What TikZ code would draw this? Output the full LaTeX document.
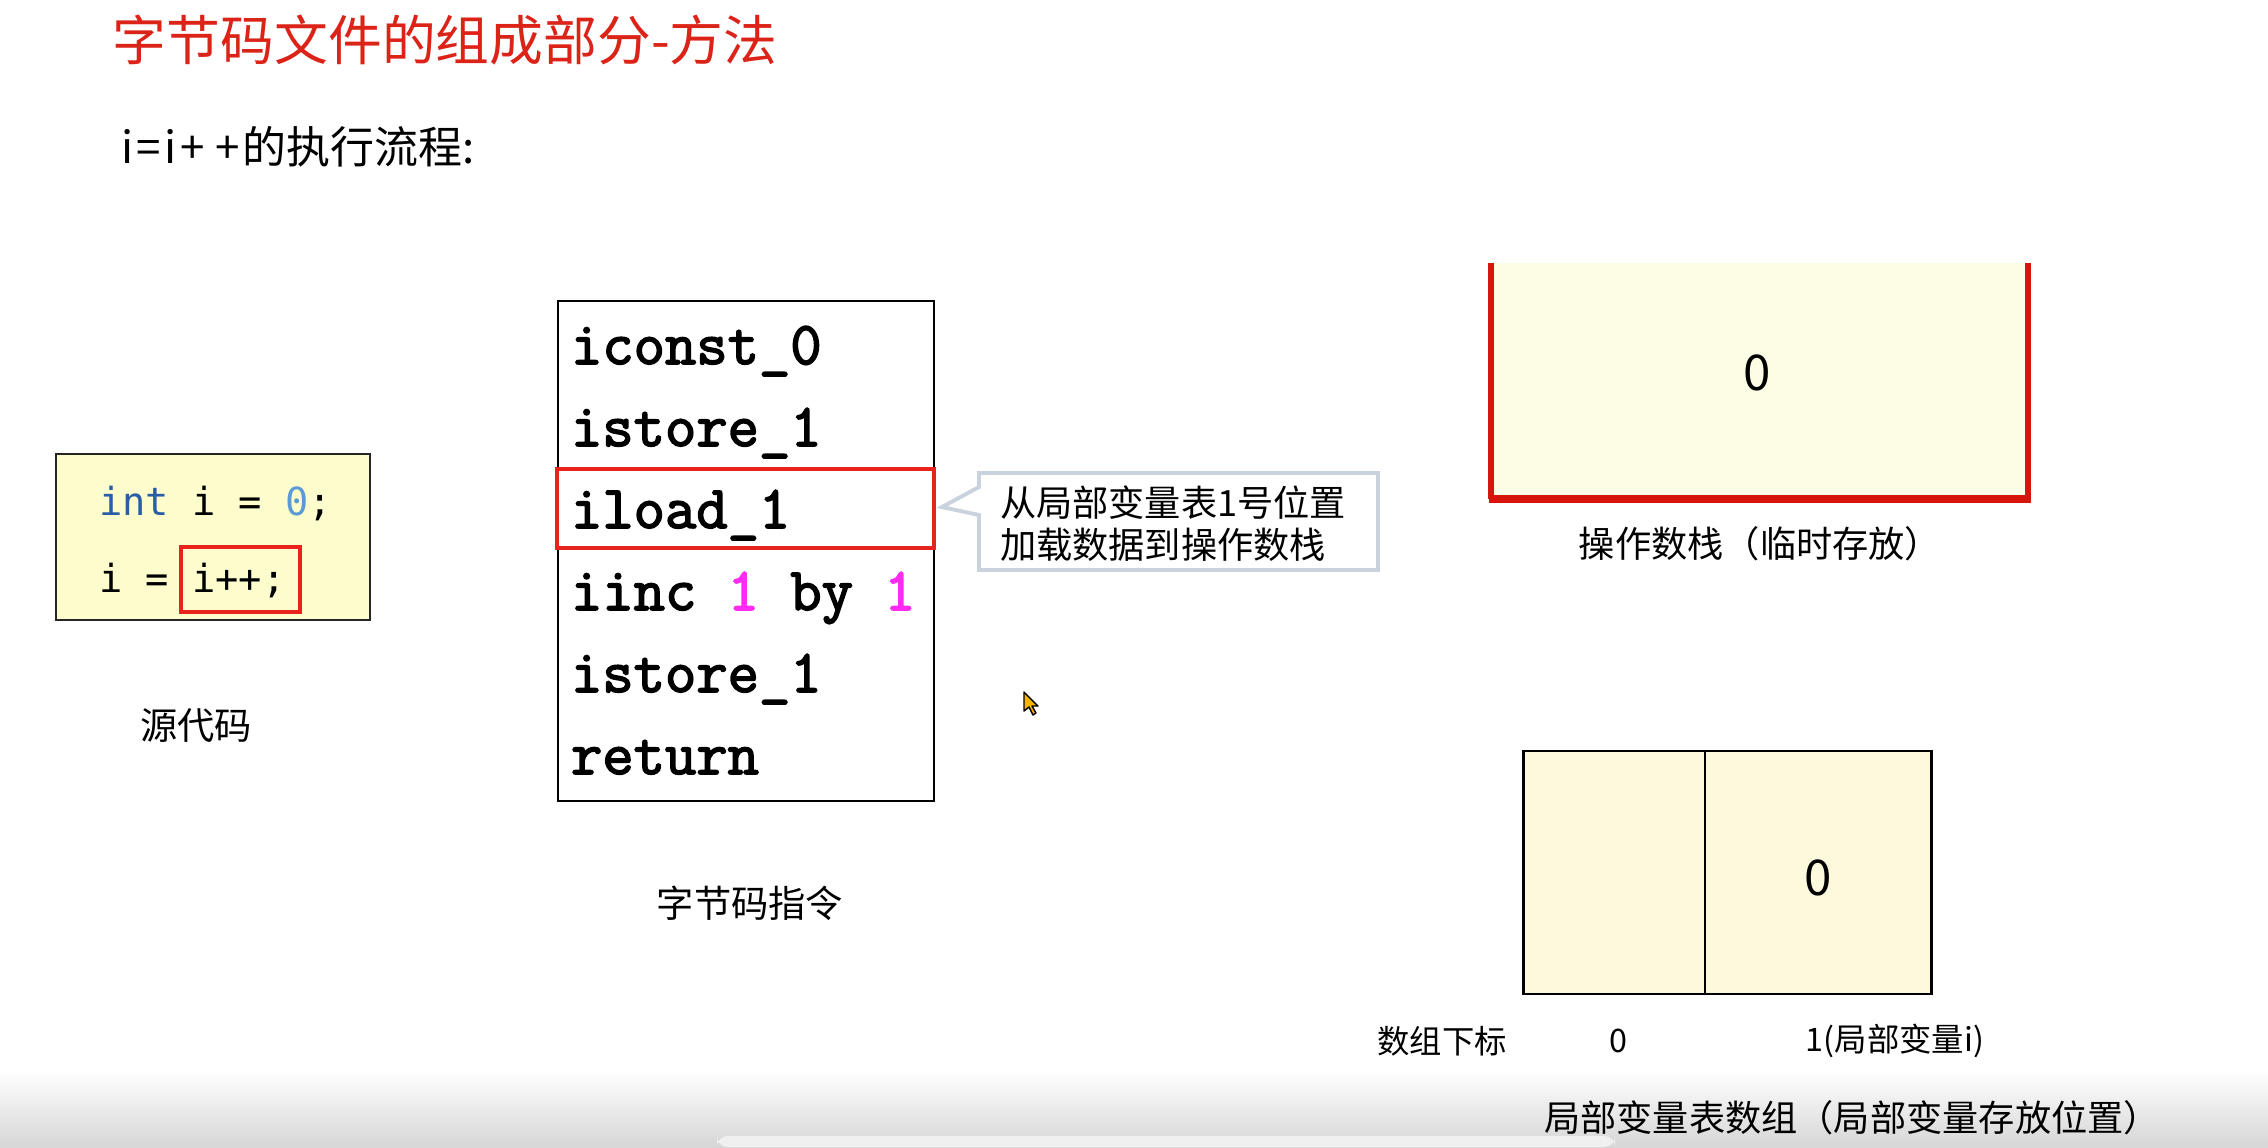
\documentclass[tikz,border=0pt]{standalone}
\usepackage{fontspec}
\setmainfont{Noto Sans CJK SC}
\newfontfamily\cjk{Noto Sans CJK SC}
\newfontfamily\srcfont{DejaVu Sans Mono}
\newfontfamily\bcfont{Latin Modern Mono}[FakeBold=2.6]
\definecolor{titlered}{HTML}{DC2318}
\definecolor{boxred}{HTML}{E8231E}
\definecolor{stackred}{HTML}{D7150D}
\definecolor{codefill}{HTML}{FCFCCC}
\definecolor{stackfill}{HTML}{FDFDE6}
\definecolor{tabfill}{HTML}{FCF9DC}
\definecolor{kwblue}{HTML}{2A5DA8}
\definecolor{numblue}{HTML}{5B9BD5}
\definecolor{mag}{HTML}{FF2BF0}
\definecolor{callborder}{HTML}{CAD2DE}
\definecolor{cursorfill}{HTML}{F5B400}
\begin{document}
\begin{tikzpicture}[x=0.01cm,y=-0.01cm,
  txt/.style={inner sep=0pt, outer sep=0pt},
  srcline/.style={txt, anchor=base west, font=\srcfont\fontsize{11}{13}\selectfont},
  bcline/.style={txt, anchor=base west, font=\bcfont\fontsize{17.3}{19}\selectfont},
  redbox/.style={draw=boxred, line width=1pt, inner sep=0pt},
  lab/.style={txt, font=\cjk\fontsize{10.3}{12}\selectfont},
  biglab/.style={txt, font=\cjk\fontsize{14}{16}\selectfont},
  smalllab/.style={txt, font=\cjk\fontsize{9.2}{11}\selectfont}
]
\useasboundingbox (0,0) rectangle (2268,1147);
\fill[white] (0,0) rectangle (2268,1147);
% bottom gradient (video overlay)
\shade[top color=white, bottom color=black!16] (0,1070) rectangle (2268,1147);
\fill[white!94!black, rounded corners=3pt] (717,1136) rectangle (1615,1147);

% title
\node[txt, anchor=west, text=titlered, font=\cjk\fontsize{15.3}{18}\selectfont] (title) at (113,40) {字节码文件的组成部分-方法};
\node[txt, anchor=west, font=\cjk\fontsize{12.5}{15}\selectfont] (sub) at (121,147) {i\hspace{1pt}=\hspace{1pt}i\hspace{1pt}+\hspace{3pt}+\hspace{1pt}的执行流程:};

% source code
\node[draw=black!85, line width=0.8pt, fill=codefill, minimum width=3.14cm, minimum height=1.66cm, inner sep=0pt] (src) at (213,537) {};
\node[srcline] (l1) at (99,515) {\textcolor{kwblue}{int} i = \textcolor{numblue}{0};};
\node[srcline] (l2) at (99,592) {i = i++;};
\node[redbox, minimum width=1.19cm, minimum height=0.65cm] (ipp) at (240.5,579.5) {};
\node[txt, font=\cjk\fontsize{10.6}{12}\selectfont] (srclab) at (196,726) {源代码};

% bytecode
\node[draw=black, line width=0.7pt, fill=white, minimum width=3.76cm, minimum height=5cm, inner sep=0pt] (bc) at (746,551) {};
\node[bcline] (b1) at (571,364) {iconst\_0};
\node[bcline] (b2) at (571,446) {istore\_1};
\node[bcline] (b3) at (571,528) {iload\_1};
\node[bcline] (b4) at (571,610) {iinc \textcolor{mag}{1} by \textcolor{mag}{1}};
\node[bcline] (b5) at (571,692) {istore\_1};
\node[bcline] (b6) at (571,774) {return};
\node[redbox, minimum width=3.77cm, minimum height=0.79cm] (hl) at (745.5,508.5) {};
\node[txt, font=\cjk\fontsize{10.6}{12}\selectfont] (bclab) at (750,903) {字节码指令};

% callout
\coordinate (tip) at (942,507);
\draw[draw=callborder, line width=1.1pt, fill=white, line join=miter]
  (979,473) -- (1378,473) -- (1378,570) -- (979,570) -- (979,515) -- (tip) -- (979,487) -- cycle;
\node[txt, anchor=west, align=left, font=\cjk\fontsize{10.3}{11.95}\selectfont] (ctext) at (1000,524) {从局部变量表1号位置\\加载数据到操作数栈};

% operand stack
\fill[stackfill] (1491,263) rectangle (2028,499);
\draw[stackred, line width=1.5pt] (1491,263) -- (1491,499);
\draw[stackred, line width=1.5pt] (2028,263) -- (2028,499);
\draw[stackred, line width=2.2pt] (1489,499) -- (2031,499);
\node[biglab] (s0) at (1757,373) {0};
\node[lab] (slab) at (1760,544) {操作数栈（临时存放）};

% local variable table
\node[draw=black, line width=0.8pt, fill=tabfill, minimum width=4.07cm, minimum height=2.43cm, inner sep=0pt] (tab) at (1727.5,872.5) {};
\draw[line width=0.8pt] (1705,751) -- (1705,994);
\node[biglab] (t0) at (1818,878) {0};
\node[smalllab] (idx) at (1442,1041) {数组下标};
\node[smalllab] (i0) at (1618,1041) {0};
\node[smalllab] (i1) at (1895,1041) {1(局部变量i)};
\node[lab] (tlab) at (1852,1118) {局部变量表数组（局部变量存放位置）};

% mouse cursor
\filldraw[fill=cursorfill, draw=black, line width=0.4pt, line join=round]
  (1024,692) -- (1024,711) -- (1029,707) -- (1033,715) -- (1036,713) -- (1032,706) -- (1038,706) -- cycle;
\end{tikzpicture}
\end{document}
